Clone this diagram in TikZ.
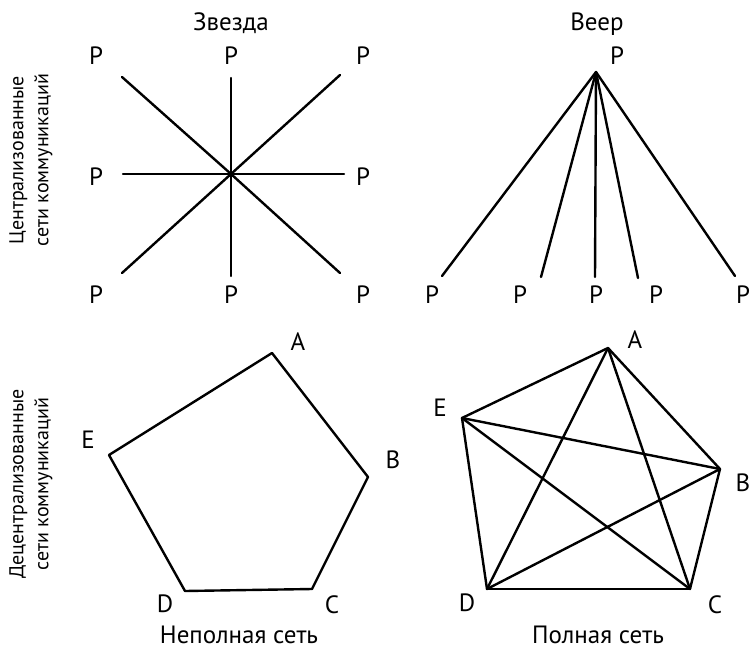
\documentclass[tikz,border=0pt]{standalone}
\usepackage{fontspec}
\setmainfont{PT Sans}
\tikzset{
  lbl/.style={inner sep=0pt, font=\fontsize{25}{27}\selectfont},
  side/.style={inner sep=0pt, rotate=90, align=center, font=\fontsize{20}{25}\selectfont},
  link/.style={line width=2.4pt, line cap=round, line join=round}
}
\begin{document}
\begin{tikzpicture}[x=1pt, y=-1pt]
\useasboundingbox (0,0) rectangle (752,651);

% row titles
\node[side] (central) at (31,160) {Централизованные\\сети коммуникаций};
\node[side] (decentral) at (31,484) {Децентрализованные\\сети коммуникаций};

% star
\node[lbl] (startitle) at (231,23) {Звезда};
\coordinate (s) at (231,174);
\coordinate (s1) at (122,77);
\coordinate (s2) at (231,78);
\coordinate (s3) at (340,75);
\coordinate (s4) at (123,174);
\coordinate (s5) at (344,174);
\coordinate (s6) at (122,273);
\coordinate (s7) at (231,276);
\coordinate (s8) at (340,273);
\node[lbl] (sp1) at (96,56) {P};
\node[lbl] (sp2) at (231,56) {P};
\node[lbl] (sp3) at (363,56) {P};
\node[lbl] (sp4) at (96,177) {P};
\node[lbl] (sp5) at (363,177) {P};
\node[lbl] (sp6) at (96,295) {P};
\node[lbl] (sp7) at (231,295) {P};
\node[lbl] (sp8) at (363,295) {P};
\foreach \i in {1,...,8}
  \draw[link] (s) -- (s\i);

% fan
\node[lbl] (fantitle) at (597,24) {Веер};
\coordinate (f) at (596,72);
\coordinate (f1) at (442,276);
\coordinate (f2) at (541,277);
\coordinate (f3) at (595,277);
\coordinate (f4) at (638,278);
\coordinate (f5) at (735,276);
\node[lbl] (fp) at (617,56) {P};
\node[lbl] (fp1) at (432,295) {P};
\node[lbl] (fp2) at (520,295) {P};
\node[lbl] (fp3) at (596,295) {P};
\node[lbl] (fp4) at (656,295) {P};
\node[lbl] (fp5) at (743,295) {P};
\foreach \i in {1,...,5}
  \draw[link] (f) -- (f\i);

% ring
\coordinate (ra) at (272,353);
\coordinate (rb) at (368,477);
\coordinate (rc) at (312,589);
\coordinate (rd) at (185,591);
\coordinate (re) at (109,455);
\node[lbl] (la) at (298,342) {A};
\node[lbl] (lb) at (393,460) {B};
\node[lbl] (lc) at (332,605) {C};
\node[lbl] (ld) at (165,604) {D};
\node[lbl] (le) at (88,440) {E};
\draw[link] (ra) -- (rb) -- (rc) -- (rd) -- (re) -- cycle;
\node[lbl] (ringtitle) at (239,635) {Неполная сеть};

% full mesh
\coordinate (ma) at (608,348);
\coordinate (mb) at (720,469);
\coordinate (mc) at (690,589);
\coordinate (md) at (487,589);
\coordinate (me) at (462,418);
\node[lbl] (ka) at (635,340) {A};
\node[lbl] (kb) at (743,483) {B};
\node[lbl] (kc) at (715,605) {C};
\node[lbl] (kd) at (467,603) {D};
\node[lbl] (ke) at (440,408) {E};
\foreach \u/\v in {a/b,a/c,a/d,a/e,b/c,b/d,b/e,c/d,c/e,d/e}
  \draw[link] (m\u) -- (m\v);
\node[lbl] (meshtitle) at (598,635) {Полная сеть};
\end{tikzpicture}
\end{document}
